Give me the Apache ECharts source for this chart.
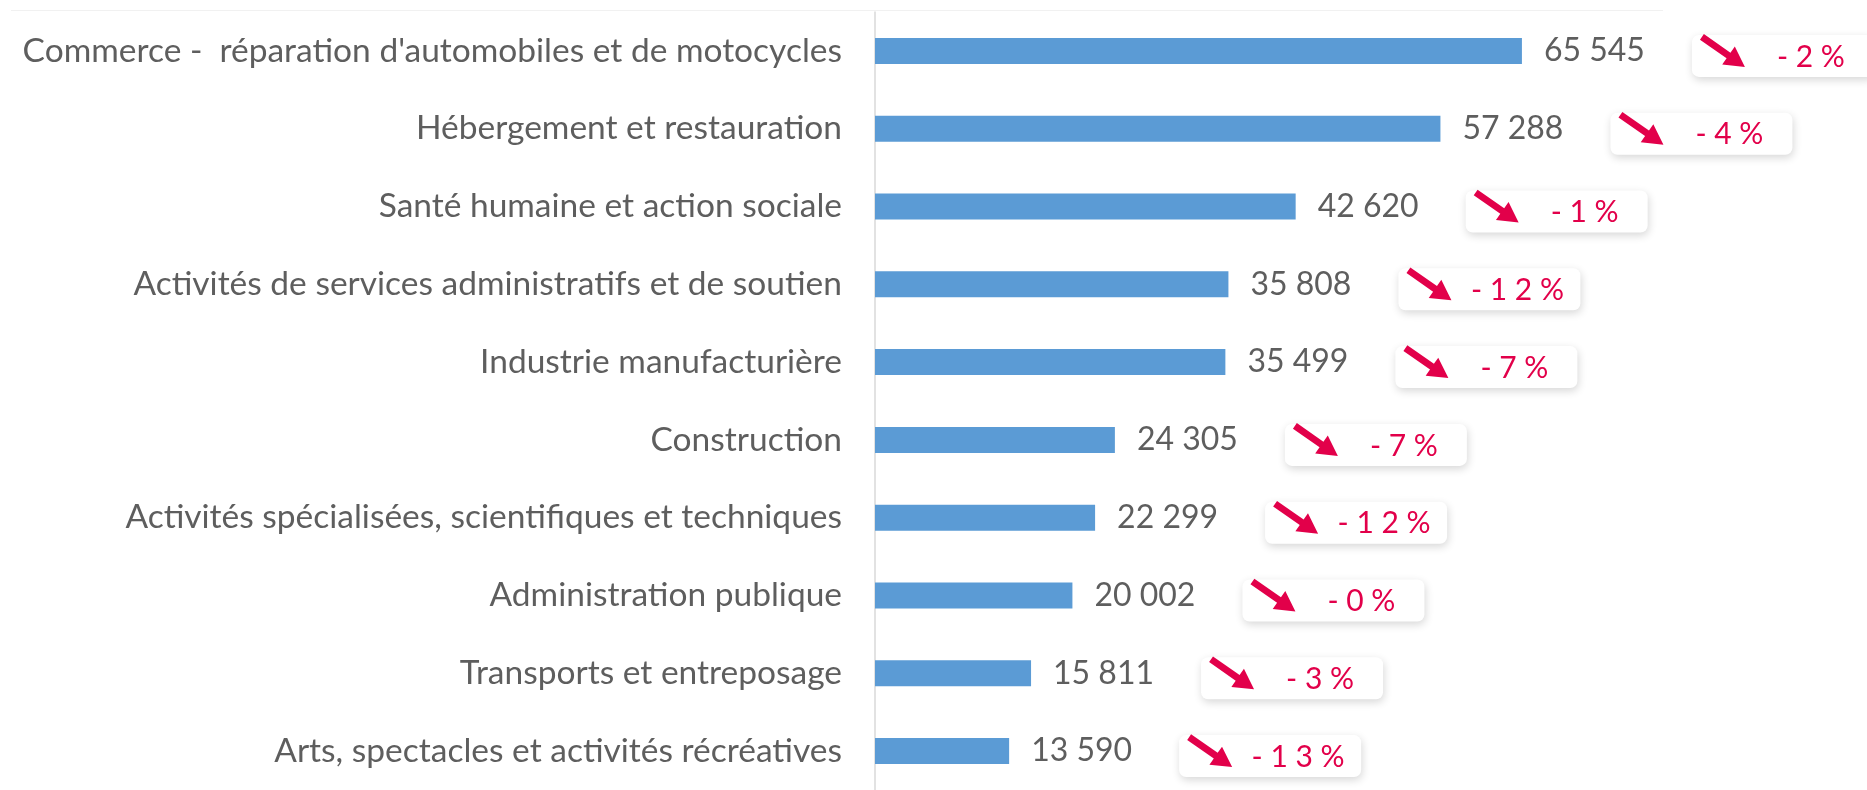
<!DOCTYPE html>
<html>
<head>
<meta charset="utf-8">
<script src="https://cdn.jsdelivr.net/npm/echarts@6/dist/echarts.min.js"></script>
<style>
  html, body { margin: 0; padding: 0; background: #ffffff; }
  #chart { width: 1867px; height: 790px; }
</style>
</head>
<body>
<div id="chart"></div>
<script>
// Effectifs par secteur d'activité, avec évolution sur un an
const categories = [
  "Commerce -  réparation d'automobiles et de motocycles",
  "Hébergement et restauration",
  "Santé humaine et action sociale",
  "Activités de services administratifs et de soutien",
  "Industrie manufacturière",
  "Construction",
  "Activités spécialisées, scientifiques et techniques",
  "Administration publique",
  "Transports et entreposage",
  "Arts, spectacles et activités récréatives"
];
const values = [65545, 57288, 42620, 35808, 35499, 24305, 22299, 20002, 15811, 13590];
const changes = ['- 2 %', '- 4 %', '- 1 %', '- 1 2 %', '- 7 %', '- 7 %', '- 1 2 %', '- 0 %', '- 3 %', '- 1 3 %'];

const TEXT_GREY = '#5e5e5e';
const ACCENT = '#E2004A';
const FONT = 'Lato, "Open Sans", sans-serif';

function formatThousands(v) {
  return String(v).replace(/\B(?=(\d{3})+(?!\d))/g, ' ');
}

// Arrow pointing down-right, from tail (x0,y0) to tip (x1,y1)
function arrowPoints(x0, y0, x1, y1) {
  const dx = x1 - x0, dy = y1 - y0;
  const len = Math.sqrt(dx * dx + dy * dy);
  const ux = dx / len, uy = dy / len;
  const nx = -uy, ny = ux;
  const shaft = 3.4, headLen = 20, headHalf = 11;
  const bx = x1 - ux * headLen, by = y1 - uy * headLen;
  return [
    [x0 + nx * shaft, y0 + ny * shaft],
    [bx + nx * shaft, by + ny * shaft],
    [bx + nx * headHalf, by + ny * headHalf],
    [x1, y1],
    [bx - nx * headHalf, by - ny * headHalf],
    [bx - nx * shaft, by - ny * shaft],
    [x0 - nx * shaft, y0 - ny * shaft]
  ];
}

function renderChangeBox(params, api) {
  const idx = params.dataIndex;
  const p = api.coord([api.value(0), api.value(1)]);
  const x = p[0] + 170;
  const yc = p[1] + 5;
  const w = 182, h = 42;
  return {
    type: 'group',
    children: [
      {
        type: 'rect',
        shape: { x: x, y: yc - h / 2, width: w, height: h, r: 7 },
        style: {
          fill: '#ffffff',
          shadowBlur: 8,
          shadowOffsetX: 1,
          shadowOffsetY: 3,
          shadowColor: 'rgba(0,0,0,0.16)'
        }
      },
      {
        type: 'polygon',
        shape: { points: arrowPoints(x + 10, yc - 19, x + 53, yc + 11) },
        style: { fill: ACCENT }
      },
      {
        type: 'text',
        style: {
          text: changes[idx],
          x: x + 119,
          y: yc + 1,
          align: 'center',
          verticalAlign: 'middle',
          fill: ACCENT,
          font: '30px ' + FONT
        }
      }
    ]
  };
}

const chart = echarts.init(document.getElementById('chart'), null, { renderer: 'canvas' });

chart.setOption({
  animation: false,
  backgroundColor: '#ffffff',
  graphic: [
    {
      type: 'line',
      shape: { x1: 11, y1: 10.5, x2: 1663, y2: 10.5 },
      style: { stroke: '#f1f1f1', lineWidth: 1 },
      silent: true
    }
  ],
  grid: { left: 875, right: 5, top: 12, bottom: -8, containLabel: false },
  xAxis: {
    type: 'value',
    min: 0,
    max: 100000,
    show: false
  },
  yAxis: {
    type: 'category',
    inverse: true,
    data: categories,
    axisLine: { show: true, lineStyle: { color: '#d9d9d9', width: 1.5 } },
    axisTick: { show: false },
    splitLine: { show: false },
    axisLabel: {
      color: TEXT_GREY,
      fontSize: 33.5,
      fontFamily: FONT,
      margin: 33
    }
  },
  series: [
    {
      type: 'bar',
      data: values,
      barWidth: 26,
      itemStyle: { color: '#5B9BD5' },
      label: {
        show: true,
        position: 'right',
        distance: 22,
        color: TEXT_GREY,
        fontSize: 32,
        fontFamily: FONT,
        formatter: (p) => formatThousands(p.value)
      },
      z: 2
    },
    {
      type: 'custom',
      data: values.map((v, i) => [v, i]),
      encode: { x: 0, y: 1 },
      renderItem: renderChangeBox,
      clip: false,
      silent: true,
      z: 3
    }
  ]
});
</script>
</body>
</html>
